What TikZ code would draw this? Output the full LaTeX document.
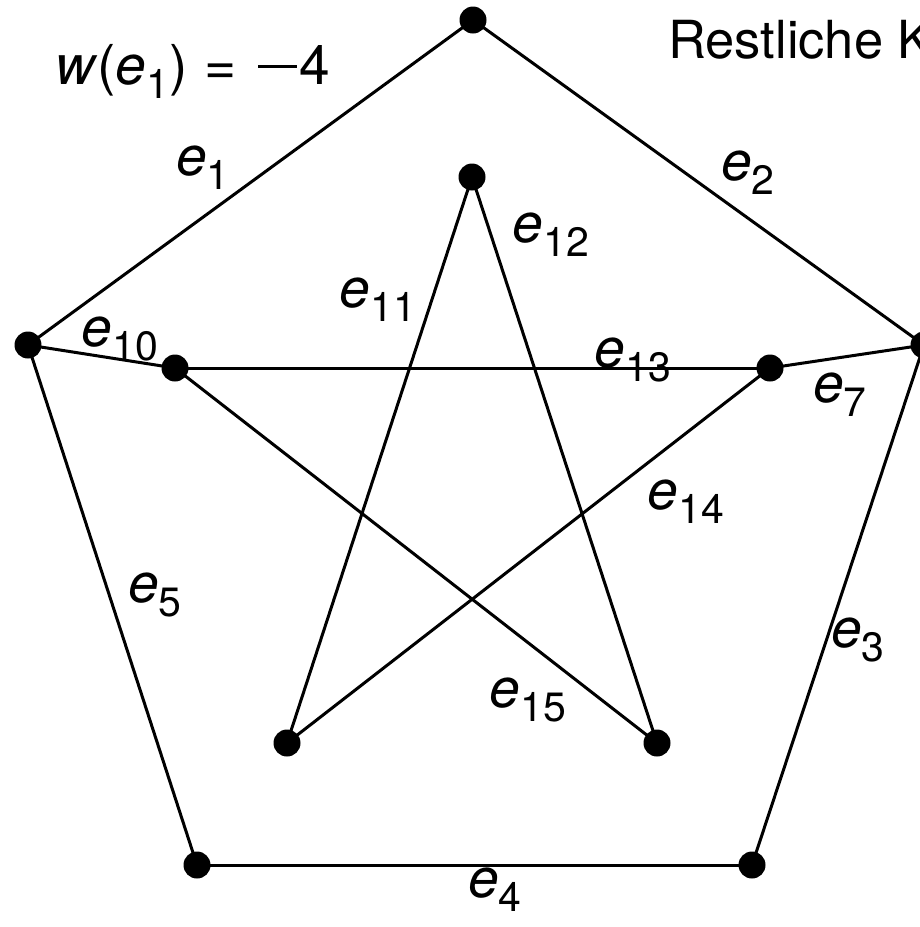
\documentclass[tikz,border=0pt]{standalone}
\usepackage{fontspec}
\setmainfont{TeX Gyre Heros}
\newcommand{\elab}[2]{\textit{#1}\raisebox{-0.26em}{\fontsize{41}{44}\selectfont #2}}
\newcommand{\mminus}{\rule[0.3em]{0.7em}{0.065em}}
\begin{document}
\begin{tikzpicture}[x=1pt,y=-1pt,
  vtx/.style={circle,fill=black,inner sep=0pt,minimum size=27pt},
  edge/.style={line width=3pt,black},
  lbl/.style={font=\fontsize{55}{60}\selectfont,inner sep=0pt,anchor=mid}]
\useasboundingbox (0,0) rectangle (919,927);
\node[vtx] (T) at (473,20) {};
\node[vtx] (L) at (28,345) {};
\node[vtx] (R) at (924,345) {};
\node[vtx] (BL) at (197,865) {};
\node[vtx] (BR) at (752,865) {};
\node[vtx] (iT) at (472,177) {};
\node[vtx] (iL) at (175,368) {};
\node[vtx] (iR) at (770,368) {};
\node[vtx] (iBL) at (287,743) {};
\node[vtx] (iBR) at (657,743) {};
\draw[edge] (T.center) -- (L.center);
\draw[edge] (T.center) -- (R.center);
\draw[edge] (R.center) -- (BR.center);
\draw[edge] (BR.center) -- (BL.center);
\draw[edge] (BL.center) -- (L.center);
\draw[edge] (L.center) -- (iL.center);
\draw[edge] (R.center) -- (iR.center);
\draw[edge] (iT.center) -- (iBL.center);
\draw[edge] (iT.center) -- (iBR.center);
\draw[edge] (iL.center) -- (iR.center);
\draw[edge] (iR.center) -- (iBL.center);
\draw[edge] (iL.center) -- (iBR.center);
\node[lbl] (le1) at (203,173) {\elab{e}{1}};
\node[lbl] (le2) at (748,178) {\elab{e}{2}};
\node[lbl] (le12) at (551,240) {\elab{e}{12}};
\node[lbl] (le11) at (378,305) {\elab{e}{11}};
\node[lbl] (le10) at (120,344) {\elab{e}{10}};
\node[lbl] (le13) at (633,365) {\elab{e}{13}};
\node[lbl] (le7) at (840,400) {\elab{e}{7}};
\node[lbl] (le14) at (686,507) {\elab{e}{14}};
\node[lbl] (le5) at (155,600) {\elab{e}{5}};
\node[lbl] (le3) at (858,645) {\elab{e}{3}};
\node[lbl] (le15) at (528,705) {\elab{e}{15}};
\node[lbl] (le4) at (495,895) {\elab{e}{4}};
\node[lbl,anchor=mid west] (w) at (55,82) {\textit{w}(\elab{e}{1})\hspace{0.3em}=\hspace{0.4em}\mminus\hspace{0.06em}4};
\node[font=\fontsize{52.5}{57}\selectfont,inner sep=0pt,anchor=base west] (rk) at (668,58) {Restliche K};
\end{tikzpicture}
\end{document}
